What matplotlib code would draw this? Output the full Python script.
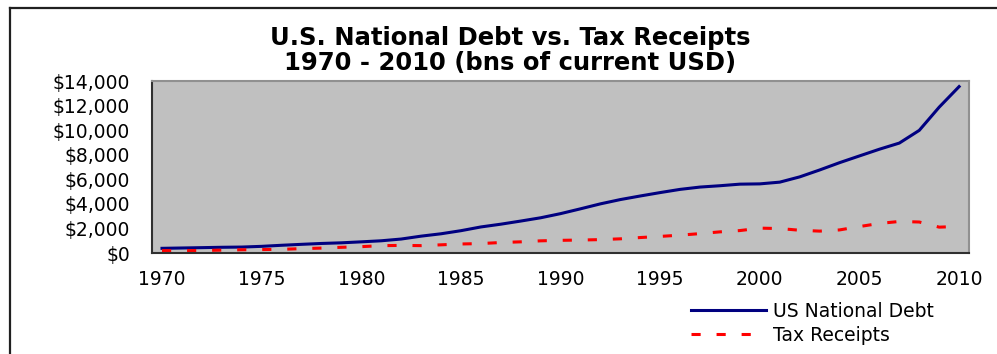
import matplotlib
matplotlib.use("Agg")
import matplotlib.pyplot as plt
from matplotlib.lines import Line2D
from matplotlib.ticker import FuncFormatter

# values in billions of current USD
years = list(range(1970, 2011))
national_debt = [381, 408, 436, 466, 484, 542, 629, 706, 777, 829,
                 909, 995, 1137, 1372, 1565, 1817, 2121, 2346, 2601, 2868,
                 3206, 3598, 4002, 4351, 4643, 4921, 5181, 5369, 5478, 5606,
                 5629, 5770, 6198, 6760, 7355, 7905, 8451, 8951, 9986, 11876,
                 13551]
tax_receipts = [193, 187, 207, 231, 263, 279, 298, 356, 400, 463,
                517, 599, 618, 601, 666, 734, 769, 854, 909, 991,
                1032, 1055, 1091, 1154, 1259, 1352, 1453, 1579, 1722, 1827,
                2025, 1991, 1853, 1782, 1880, 2154, 2407, 2568, 2524, 2105,
                2163]
x_ticks = [1970, 1975, 1980, 1985, 1990, 1995, 2000, 2005, 2010]
y_ticks = [0, 2000, 4000, 6000, 8000, 10000, 12000, 14000]

plt.rcParams['font.family'] = ['DejaVu Sans']

fig = plt.figure(figsize=(9.97, 3.54), dpi=100)
ax = fig.add_axes([0.1525, 0.2853, 0.8195, 0.4857])
ax.set_facecolor('#C0C0C0')

ax.plot(years, national_debt, color='#000080', lw=2.2, label='US National Debt')
ax.plot(years, tax_receipts, color='#FF0000', lw=2.2, dashes=(3, 5.2),
        label='Tax Receipts')

ax.set_xlim(1969.5, 2010.5)
ax.set_ylim(0, 14000)
ax.set_xticks(x_ticks)
ax.set_yticks(y_ticks)
ax.yaxis.set_major_formatter(FuncFormatter(lambda v, p: f"${v:,.0f}"))
ax.tick_params(axis='both', length=0, labelsize=13.5, colors='black')
ax.tick_params(axis='y', pad=16)
ax.tick_params(axis='x', pad=12)

for side in ['left', 'bottom']:
    ax.spines[side].set_color('#303030')
    ax.spines[side].set_linewidth(1.5)
for side in ['top', 'right']:
    ax.spines[side].set_color('#909090')
    ax.spines[side].set_linewidth(1.5)

fig.text(0.512, 0.893, 'U.S. National Debt vs. Tax Receipts',
         ha='center', va='center', fontsize=17.5, fontweight='bold')
fig.text(0.512, 0.823, '1970 - 2010 (bns of current USD)',
         ha='center', va='center', fontsize=17.5, fontweight='bold')

leg = fig.legend(loc='center left', bbox_to_anchor=(0.676, 0.087),
                 frameon=False, fontsize=13.5, handlelength=4.0,
                 handletextpad=0.4, labelspacing=0.25)

# outer chart border: only top and left edges are visible
x0, y0 = 10 / 997, 1 - 8 / 354
fig.add_artist(Line2D([x0, 1.0], [y0, y0], transform=fig.transFigure,
                      color='#202020', lw=1.6))
fig.add_artist(Line2D([x0, x0], [0.0, y0], transform=fig.transFigure,
                      color='#202020', lw=1.6))

fig.savefig('out.png', dpi=100)
